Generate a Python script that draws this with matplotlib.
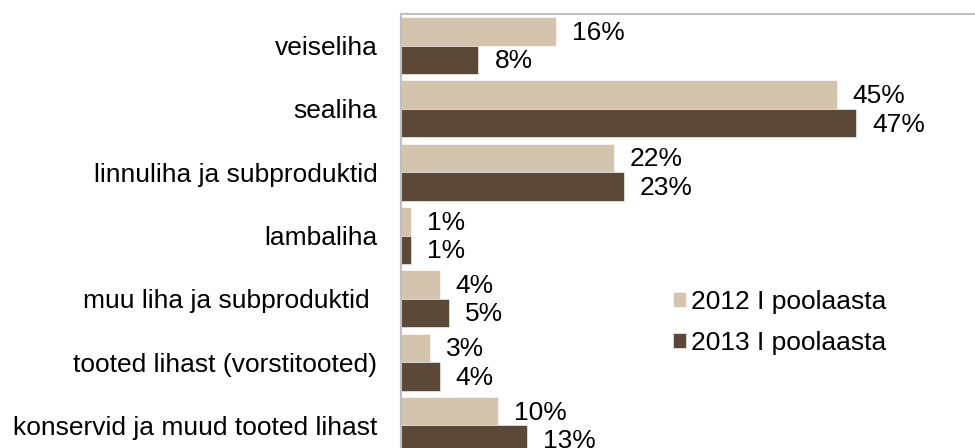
import matplotlib.pyplot as plt
import numpy as np

plt.rcParams["font.family"] = ["Liberation Sans", "DejaVu Sans"]

CATEGORIES = [
    "veiseliha",
    "sealiha",
    "linnuliha ja subproduktid",
    "lambaliha",
    "muu liha ja subproduktid ",
    "tooted lihast (vorstitooted)",
    "konservid ja muud tooted lihast",
]
SERIES_NAMES = ["2012 I poolaasta", "2013 I poolaasta"]
VALUES_2012 = [16, 45, 22, 1, 4, 3, 10]
VALUES_2013 = [8, 47, 23, 1, 5, 4, 13]

COLOR_2012 = "#D5C4AD"
COLOR_2013 = "#5C4837"
SPINE_COLOR = "#BFBFBF"
FONT_SIZE = 19

W, H = 975, 448
fig = plt.figure(figsize=(W / 100, H / 100), dpi=100)

# l'area del grafico sborda in basso e a destra, come nell'originale
left, top, bottom_px, right_px = 401, 14, 457, 977
ax = fig.add_axes([left / W, 1 - bottom_px / H,
                   (right_px - left) / W, (bottom_px - top) / H])

y = np.arange(len(CATEGORIES))
bar_h = 0.45

bars_a = ax.barh(y - bar_h / 2, VALUES_2012, height=bar_h, color=COLOR_2012,
                 edgecolor="white", linewidth=0.4, label=SERIES_NAMES[0])
bars_b = ax.barh(y + bar_h / 2, VALUES_2013, height=bar_h, color=COLOR_2013,
                 edgecolor="white", linewidth=0.4, label=SERIES_NAMES[1])

for bars, vals in ((bars_a, VALUES_2012), (bars_b, VALUES_2013)):
    for rect, v in zip(bars, vals):
        ax.annotate(f"{v}%", (rect.get_width(), rect.get_y() + rect.get_height() / 2),
                    xytext=(11.5, -1), textcoords="offset points",
                    ha="left", va="center", fontsize=FONT_SIZE, color="black")

ax.set_xlim(0, 59.5)
ax.set_ylim(len(CATEGORIES) - 0.5, -0.5)
ax.set_yticks(y)
ax.set_yticklabels(CATEGORIES, fontsize=FONT_SIZE)
ax.tick_params(axis="y", length=0, pad=17)
ax.set_xticks([])

for side in ("left", "top", "right", "bottom"):
    ax.spines[side].set_color(SPINE_COLOR)
    ax.spines[side].set_linewidth(1.5)

ax.legend(loc="center left", bbox_to_anchor=((673 - left) / (right_px - left), 0.303),
          frameon=False, fontsize=FONT_SIZE, handlelength=0.5, handleheight=0.5,
          handletextpad=0.2, labelspacing=0.64, borderaxespad=0, borderpad=0)

fig.savefig("out.png", dpi=100)
